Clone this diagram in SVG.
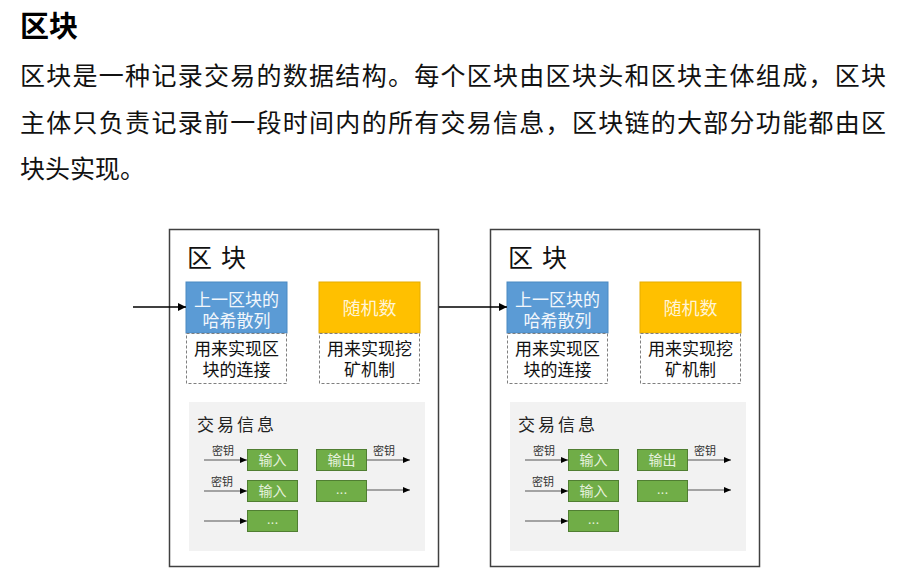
<svg xmlns="http://www.w3.org/2000/svg" width="906" height="582" viewBox="0 0 906 582">
<style>
  .cjk { font-family: "Liberation Sans", "Noto Sans CJK SC", sans-serif; }
  .title { font-size: 29px; font-weight: bold; fill: #000; }
  .para { font-size: 25px; fill: #111; }
  .outer { fill: #fff; stroke: #404040; stroke-width: 1.5; }
  .btitle { font-size: 25px; fill: #111; letter-spacing: 9px; }
  .blue { fill: #5B9BD5; stroke: #4A89C2; stroke-width: 1; }
  .yellow { fill: #FFC000; stroke: #E5AC00; stroke-width: 1; }
  .dash { fill: #fff; stroke: #7F7F7F; stroke-width: 1; stroke-dasharray: 3 2; }
  .wtxt { font-size: 17px; fill: #F2F7FC; text-anchor: middle; }
  .ytxt { font-size: 18px; fill: #FFF4D6; text-anchor: middle; }
  .ktxt { font-size: 17px; fill: #111; text-anchor: middle; }
  .gray { fill: #F2F2F2; }
  .ttitle { font-size: 17px; fill: #222; letter-spacing: 3px; }
  .green { fill: #70AD47; stroke: #507E32; stroke-width: 1; }
  .gtxt { font-size: 14px; fill: #E6F2DD; text-anchor: middle; }
  .key { font-size: 11px; fill: #333; }
  .main { stroke: #000; stroke-width: 1.5; fill: none; }
  .small { stroke: #555; stroke-width: 1; fill: none; }
</style>
<defs>
  <marker id="ah" markerUnits="userSpaceOnUse" markerWidth="9" markerHeight="8" refX="8" refY="4" orient="auto">
    <path d="M0,0 L8,4 L0,8 Z" fill="#000"/>
  </marker>
  <marker id="ahs" markerUnits="userSpaceOnUse" markerWidth="8" markerHeight="6" refX="7" refY="3" orient="auto">
    <path d="M0,0 L7,3 L0,6 Z" fill="#000"/>
  </marker>
</defs>

<g id="header" class="cjk">
  <text class="title" x="20" y="37">区块</text>
  <text class="para" x="20" y="85" textLength="866" lengthAdjust="spacing">区块是一种记录交易的数据结构。每个区块由区块头和区块主体组成，区块</text>
  <text class="para" x="20" y="132" textLength="866" lengthAdjust="spacing">主体只负责记录前一段时间内的所有交易信息，区块链的大部分功能都由区</text>
  <text class="para" x="20" y="178">块头实现。</text>
</g>

<g id="block1" class="cjk">
  <rect class="outer" x="169.5" y="229.5" width="269" height="337"/>
  <text class="btitle" x="187" y="267">区块</text>
  <rect class="blue" x="186" y="282" width="101" height="51"/>
  <text class="wtxt"><tspan x="236.5" y="306">上一区块的</tspan><tspan x="236.5" y="327">哈希散列</tspan></text>
  <rect class="dash" x="186.5" y="333.5" width="100" height="50"/>
  <text class="ktxt"><tspan x="236.5" y="355">用来实现区</tspan><tspan x="236.5" y="376">块的连接</tspan></text>
  <rect class="yellow" x="319" y="282" width="101" height="51"/>
  <text class="ytxt" x="369.5" y="315">随机数</text>
  <rect class="dash" x="319.5" y="333.5" width="100" height="50"/>
  <text class="ktxt"><tspan x="369.5" y="355">用来实现挖</tspan><tspan x="369.5" y="376">矿机制</tspan></text>
  <rect class="gray" x="189" y="402" width="236" height="149"/>
  <text class="ttitle" x="197" y="431">交易信息</text>
  <rect class="green" x="247.5" y="449.5" width="50" height="21"/>
  <text class="gtxt" x="272.5" y="465">输入</text>
  <rect class="green" x="247.5" y="480.5" width="50" height="21"/>
  <text class="gtxt" x="272.5" y="496">输入</text>
  <rect class="green" x="247.5" y="510.5" width="50" height="21"/>
  <text class="gtxt" x="272.5" y="524">...</text>
  <rect class="green" x="316.5" y="449.5" width="50" height="21"/>
  <text class="gtxt" x="341.5" y="465">输出</text>
  <rect class="green" x="316.5" y="480.5" width="50" height="21"/>
  <text class="gtxt" x="341.5" y="494">...</text>
  <text class="key" x="212" y="455">密钥</text>
  <text class="key" x="211" y="486">密钥</text>
  <text class="key" x="373" y="455">密钥</text>
</g>

<g id="block2" class="cjk" transform="translate(321,0)">
  <rect class="outer" x="169.5" y="229.5" width="269" height="337"/>
  <text class="btitle" x="187" y="267">区块</text>
  <rect class="blue" x="186" y="282" width="101" height="51"/>
  <text class="wtxt"><tspan x="236.5" y="306">上一区块的</tspan><tspan x="236.5" y="327">哈希散列</tspan></text>
  <rect class="dash" x="186.5" y="333.5" width="100" height="50"/>
  <text class="ktxt"><tspan x="236.5" y="355">用来实现区</tspan><tspan x="236.5" y="376">块的连接</tspan></text>
  <rect class="yellow" x="319" y="282" width="101" height="51"/>
  <text class="ytxt" x="369.5" y="315">随机数</text>
  <rect class="dash" x="319.5" y="333.5" width="100" height="50"/>
  <text class="ktxt"><tspan x="369.5" y="355">用来实现挖</tspan><tspan x="369.5" y="376">矿机制</tspan></text>
  <rect class="gray" x="189" y="402" width="236" height="149"/>
  <text class="ttitle" x="197" y="431">交易信息</text>
  <rect class="green" x="247.5" y="449.5" width="50" height="21"/>
  <text class="gtxt" x="272.5" y="465">输入</text>
  <rect class="green" x="247.5" y="480.5" width="50" height="21"/>
  <text class="gtxt" x="272.5" y="496">输入</text>
  <rect class="green" x="247.5" y="510.5" width="50" height="21"/>
  <text class="gtxt" x="272.5" y="524">...</text>
  <rect class="green" x="316.5" y="449.5" width="50" height="21"/>
  <text class="gtxt" x="341.5" y="465">输出</text>
  <rect class="green" x="316.5" y="480.5" width="50" height="21"/>
  <text class="gtxt" x="341.5" y="494">...</text>
  <text class="key" x="212" y="455">密钥</text>
  <text class="key" x="211" y="486">密钥</text>
  <text class="key" x="373" y="455">密钥</text>
</g>

<g id="connectors">
  <line class="main" x1="133" y1="307" x2="186" y2="307" marker-end="url(#ah)"/>
  <line class="main" x1="439" y1="307" x2="507" y2="307" marker-end="url(#ah)"/>
  <g id="tx-arrows-1">
    <line class="small" x1="204" y1="460" x2="247" y2="460" marker-end="url(#ahs)"/>
    <line class="small" x1="204" y1="491" x2="247" y2="491" marker-end="url(#ahs)"/>
    <line class="small" x1="204" y1="521" x2="247" y2="521" marker-end="url(#ahs)"/>
    <line class="small" x1="367" y1="460" x2="410" y2="460" marker-end="url(#ahs)"/>
    <line class="small" x1="367" y1="490" x2="410" y2="490" marker-end="url(#ahs)"/>
  </g>
  <g id="tx-arrows-2" transform="translate(321,0)">
    <line class="small" x1="204" y1="460" x2="247" y2="460" marker-end="url(#ahs)"/>
    <line class="small" x1="204" y1="491" x2="247" y2="491" marker-end="url(#ahs)"/>
    <line class="small" x1="204" y1="521" x2="247" y2="521" marker-end="url(#ahs)"/>
    <line class="small" x1="367" y1="460" x2="410" y2="460" marker-end="url(#ahs)"/>
    <line class="small" x1="367" y1="490" x2="410" y2="490" marker-end="url(#ahs)"/>
  </g>
</g>
</svg>
